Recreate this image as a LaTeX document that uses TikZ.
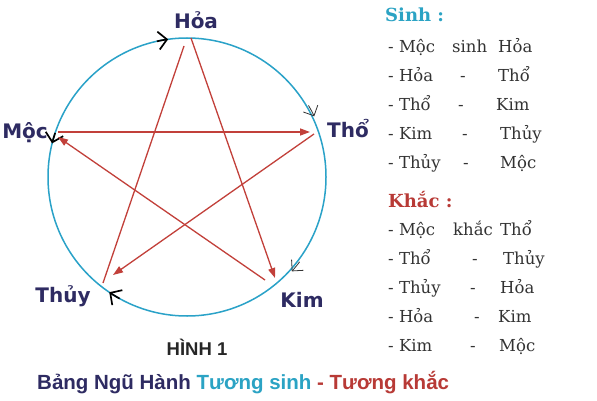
\documentclass[tikz,border=0pt]{standalone}
\usepackage{fontspec}
\setmainfont{DejaVu Serif}
\newfontfamily\lblfont{DejaVu Sans}
\newfontfamily\ttlfont{Liberation Sans}
\usetikzlibrary{arrows.meta}
\definecolor{ringc}{HTML}{2AA2C8}
\definecolor{redl}{HTML}{C2403A}
\definecolor{navy}{HTML}{2E2B62}
\definecolor{txtc}{HTML}{333333}
\definecolor{hinhc}{HTML}{262626}
\definecolor{sinhc}{HTML}{2BA3C4}
\definecolor{khacc}{HTML}{B83A36}
\begin{document}
\begin{tikzpicture}[x=1pt,y=1pt,
  ringline/.style={draw=ringc,line width=1.5pt},
  kline/.style={draw=redl,line width=1.3pt},
  karrow/.style={kline,-{Triangle[length=10pt,width=7pt]}},
  chev/.style={draw=black,line width=1.7pt,-{Straight Barb[length=8.5pt,width=18pt]}},
  chevthin/.style={draw=black!80,line width=0.8pt,-{Straight Barb[length=8pt,width=16pt]}},
  lbl/.style={font=\lblfont\bfseries\fontsize{20}{24}\selectfont,text=navy,inner sep=0pt,anchor=base},
  item/.style={font=\fontsize{16.5}{19}\selectfont,text=txtc,inner sep=0pt,anchor=base west},
  hdr/.style={font=\bfseries\fontsize{18}{21}\selectfont,inner sep=0pt,anchor=base west}
]
\fill[white] (0,0) rectangle (597,400);
\useasboundingbox (0,0) rectangle (597,400);

% circle
\coordinate (c) at (187,223);
\draw[ringline] (c) circle[radius=139];

% chevrons on the circle (clockwise)
\draw[chev] (c) ++(102.5:139) arc[start angle=102.5, end angle=97.8, radius=139];
\draw[chevthin] (c) ++(30.5:141) arc[start angle=30.5, end angle=25.5, radius=141];
\draw[chevthin] (c) ++(-37:141) arc[start angle=-37, end angle=-42, radius=141];
\draw[chev] (c) ++(-119:139) arc[start angle=-119, end angle=-124, radius=139];
\draw[chev] (c) ++(-198.5:139) arc[start angle=-198.5, end angle=-194, radius=139];

% star endpoints
\coordinate (mocS) at (58,268);
\coordinate (thoE) at (310,268);
\coordinate (thoS) at (314,266);
\coordinate (thuyE) at (113,125);
\coordinate (thuyS) at (103,117);
\coordinate (hoaE) at (184,354);
\coordinate (hoaS) at (191,362);
\coordinate (kimE) at (275,122);
\coordinate (kimS) at (265,120);
\coordinate (mocE) at (58,263);

\draw[karrow] (mocS) -- (thoE);
\draw[karrow] (thoS) -- (thuyE);
\draw[kline] (thuyS) -- (hoaE);
\draw[karrow] (hoaS) -- (kimE);
\draw[karrow] (kimS) -- (mocE);

% labels
\node[lbl] (lhoa) at (196,371) {Hỏa};
\node[lbl] (lmoc) at (25,262) {Mộc};
\node[lbl] (ltho) at (348,263) {Thổ};
\node[lbl] (lthuy) at (63,98) {Thủy};
\node[lbl] (lkim) at (302,93) {Kim};

\node[font=\ttlfont\bfseries\fontsize{18.5}{22}\selectfont,text=hinhc,inner sep=0pt,anchor=base] (hinh) at (197,45) {HÌNH 1};
\node[font=\ttlfont\bfseries\fontsize{20.5}{24}\selectfont,inner sep=0pt,anchor=base west] (title) at (37,11)
  {\textcolor{navy}{Bảng Ngũ Hành} \textcolor{sinhc}{Tương sinh} \textcolor{khacc}{- Tương khắc}};

% Sinh list
\node[hdr,text=sinhc] (sinhh) at (385,378) {Sinh :};
\node[item] (s1a) at (388,348) {- Mộc};
\node[item] (s1b) at (452,348) {sinh};
\node[item] (s1c) at (498,348) {Hỏa};
\node[item] (s2a) at (388,319) {- Hỏa};
\node[item] (s2b) at (460,319) {-};
\node[item] (s2c) at (498,319) {Thổ};
\node[item] (s3a) at (388,290) {- Thổ};
\node[item] (s3b) at (458,290) {-};
\node[item] (s3c) at (496,290) {Kim};
\node[item] (s4a) at (388,261) {- Kim};
\node[item] (s4b) at (462,261) {-};
\node[item] (s4c) at (500,261) {Thủy};
\node[item] (s5a) at (388,232) {- Thủy};
\node[item] (s5b) at (463,232) {-};
\node[item] (s5c) at (500,232) {Mộc};

% Khac list
\node[hdr,text=khacc] (khach) at (388,193) {Khắc :};
\node[item] (k1a) at (388,165) {- Mộc};
\node[item] (k1b) at (453,165) {khắc};
\node[item] (k1c) at (500,165) {Thổ};
\node[item] (k2a) at (388,136) {- Thổ};
\node[item] (k2b) at (472,136) {-};
\node[item] (k2c) at (503,136) {Thủy};
\node[item] (k3a) at (388,107) {- Thủy};
\node[item] (k3b) at (470,107) {-};
\node[item] (k3c) at (500,107) {Hỏa};
\node[item] (k4a) at (388,78) {- Hỏa};
\node[item] (k4b) at (474,78) {-};
\node[item] (k4c) at (498,78) {Kim};
\node[item] (k5a) at (388,49) {- Kim};
\node[item] (k5b) at (470,49) {-};
\node[item] (k5c) at (499,49) {Mộc};
\end{tikzpicture}
\end{document}
